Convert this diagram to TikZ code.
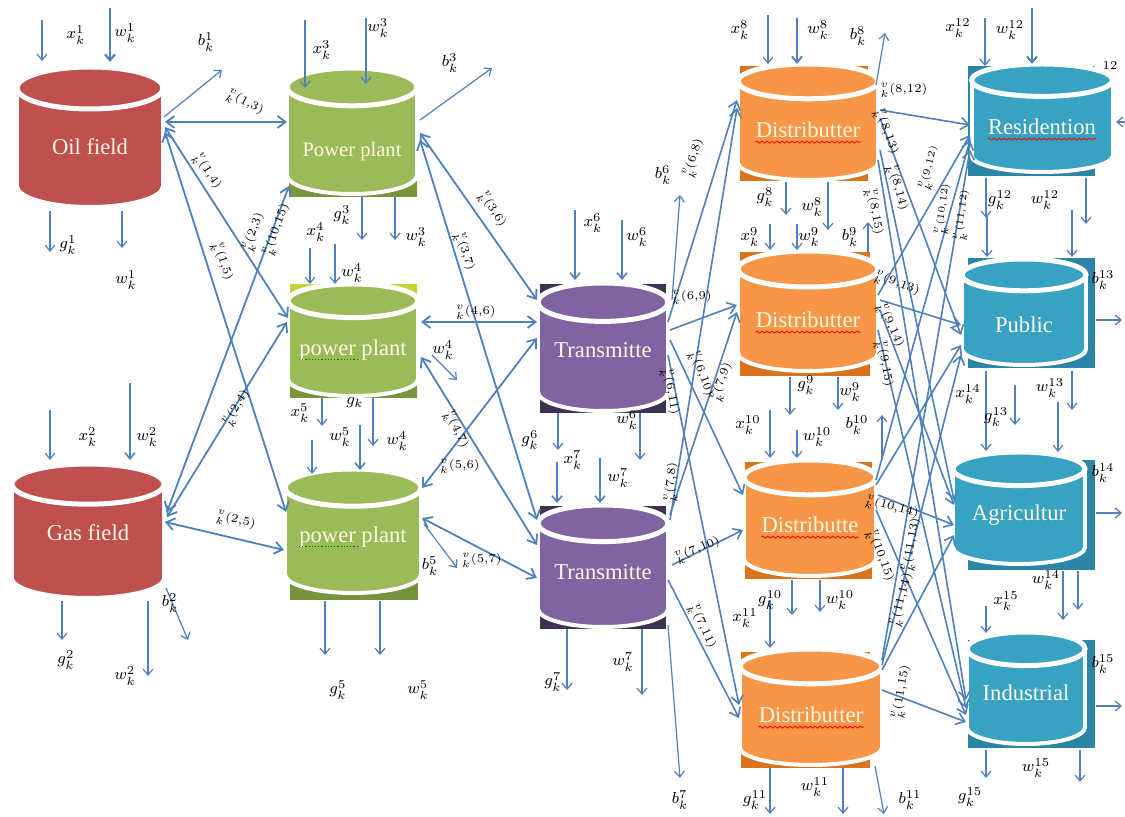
\documentclass[tikz,border=0pt]{standalone}
\usepackage{fontspec}
\setmainfont{Liberation Serif}
\usetikzlibrary{arrows.meta,calc,decorations.pathmorphing}
\definecolor{ln}{HTML}{4F81BD}
\definecolor{cred}{HTML}{C0504D}
\definecolor{cgreen}{HTML}{9BBB59}
\definecolor{cgreenD}{HTML}{76923C}
\definecolor{cpurp}{HTML}{8064A2}
\definecolor{cpurpD}{HTML}{3F3151}
\definecolor{corange}{HTML}{F79646}
\definecolor{corangeD}{HTML}{D9731E}
\definecolor{cteal}{HTML}{38A2C2}
\definecolor{ctealD}{HTML}{2A86A4}
\definecolor{ctext}{HTML}{FFF8E7}
% cylinder: name, cx, cy, w, h, colour, text, text dy
\newcommand{\cylnode}[8]{%
  \expandafter\gdef\csname c#1x\endcsname{#2}%
  \expandafter\gdef\csname c#1y\endcsname{#3}%
  \pgfmathsetmacro\crx{#4/2}%
  \pgfmathsetmacro\cry{0.15*#5}%
  \pgfmathsetmacro\cyt{#3-#5/2+\cry}%
  \pgfmathsetmacro\cyb{#3+#5/2-\cry}%
  \pgfmathsetmacro\cxl{#2-\crx}%
  \pgfmathsetmacro\cxr{#2+\crx}%
  \fill[#6] (#2,\cyb) ellipse[x radius=\crx, y radius=\cry];
  \draw[white, line width=2pt] (#2,\cyb) ellipse[x radius=\crx, y radius=\cry];
  \fill[#6] (\cxl,\cyt) rectangle (\cxr,\cyb);
  \draw[white, line width=2pt] (\cxl,\cyt) -- (\cxl,\cyb) (\cxr,\cyt) -- (\cxr,\cyb);
  \draw[white, line width=2.5pt, fill=#6] (#2,\cyt) ellipse[x radius=\crx, y radius=\cry];
  \node[inner sep=0pt, minimum width=#4*0.5pt, minimum height=#5*0.5pt] (#1) at (#2,#3) {};
  \node[ctxt] (#1t) at (#2,#3+#8) {#7};
}
\newcommand{\NP}[3]{($(#1)+({#2-\csname c#1x\endcsname},{#3-\csname c#1y\endcsname})$)}
\newcommand{\el}[2]{$^{v}_{k}(#1{,}#2)$}
\begin{document}
\begin{tikzpicture}[x=0.5pt,y=-0.5pt,
  arr/.style={ln, line width=0.6pt, -{Straight Barb[length=3pt,width=5pt]}},
  flow/.style={ln, line width=0.9pt, {Straight Barb[length=4pt,width=6pt]}-{Straight Barb[length=4pt,width=6pt]}},
  flowa/.style={ln, line width=0.8pt, -{Straight Barb[length=4pt,width=6pt]}},
  lab/.style={font=\fontsize{8.5}{10}\selectfont, inner sep=0.5pt},
  elab/.style={font=\fontsize{6}{7}\selectfont, inner sep=0.2pt},
  elabs/.style={font=\fontsize{4.5}{5}\selectfont, inner sep=0.2pt},
  ctxt/.style={text=ctext, inner sep=0pt, font=\fontsize{11.3}{13}\selectfont},
  wavy/.style={red, line width=0.4pt, decorate, decoration={snake, amplitude=0.5pt, segment length=2.5pt}},
  dotty/.style={green!45!black, line width=0.6pt, densely dotted},
]
\useasboundingbox (0,0) rectangle (1125,817);
\fill[white] (0,0) rectangle (1125,817);

% shadow boxes
\shade[top color=cgreen!60!yellow, bottom color=cgreenD] (289,86) rectangle (417,197);
\shade[top color=cgreen!60!yellow, bottom color=cgreenD] (290,285) rectangle (417,398);
\fill[cgreenD] (290,478) rectangle (418,600);
\fill[cpurpD] (540,284) rectangle (666,413);
\fill[cpurpD] (540,506) rectangle (666,629);
\fill[corangeD] (740,66) rectangle (868,181);
\fill[corangeD] (740,252) rectangle (870,376);
\fill[corangeD] (745,462) rectangle (872,579);
\fill[corangeD] (741,652) rectangle (870,768);
\fill[ctealD] (968,66) rectangle (1095,176);
\fill[ctealD] (968,258) rectangle (1095,368);
\fill[ctealD] (968,460) rectangle (1095,570);
\fill[ctealD] (968,640) rectangle (1095,748);

% cylinders
\cylnode{oil}{90}{137}{146}{140}{cred}{Oil field}{10}
\cylnode{gas}{88}{531}{152}{134}{cred}{Gas field}{2}
\cylnode{ppa}{352}{131}{130}{126}{cgreen}{\fontsize{10.3}{12}\selectfont Power plant}{21}
\cylnode{ppb}{353}{340}{130}{112}{cgreen}{power plant}{10}
\cylnode{ppc}{353}{531}{136}{124}{cgreen}{power plant}{6}
\cylnode{ta}{603}{347}{130}{128}{cpurp}{Transmitte}{3}
\cylnode{tb}{603}{566}{130}{122}{cpurp}{Transmitte}{6}
\cylnode{da}{808}{122}{140}{116}{corange}{Distributter}{8}
\cylnode{db}{808}{311}{140}{120}{corange}{Distributter}{9}
\cylnode{dc}{810}{518}{132}{116}{corange}{Distributte}{7}
\cylnode{dd}{811}{707}{142}{116}{corange}{Distributter}{8}
\cylnode{res}{1042}{118}{141}{108}{cteal}{Residention}{9}
\cylnode{pub}{1024}{312}{124}{106}{cteal}{Public}{13}
\cylnode{agr}{1019}{508}{132}{112}{cteal}{Agricultur}{7}
\cylnode{ind}{1026}{688}{118}{112}{cteal}{Industrial}{5}

% spell-check underlines
\foreach \n in {da,db,dc,dd,res}{\draw[wavy] ([yshift=-2.2pt]\n t.base west) -- ([yshift=-2.2pt]\n t.base east);}
\draw[dotty] ([yshift=-2.2pt]ppbt.base west) -- ++(58,0);
\draw[dotty] ([yshift=-2.2pt]ppct.base west) -- ++(60,0);

% ---------- source flows ----------
\draw[flow] \NP{oil}{165}{122} -- \NP{ppa}{287}{122};
\draw[flow] \NP{oil}{165}{127} -- \NP{ppb}{288}{318};
\draw[flow] \NP{oil}{165}{132} -- \NP{ppc}{286}{512};
\draw[flow] \NP{gas}{167}{512} -- \NP{ppa}{289}{186};
\draw[flow] \NP{gas}{167}{517} -- \NP{ppb}{287}{322};
\draw[flow] \NP{gas}{165}{522} -- \NP{ppc}{284}{550};
% power plants to transmitters
\draw[flow] \NP{ppa}{420}{133} -- \NP{ta}{537}{300};
\draw[flow] \NP{ppa}{420}{140} -- \NP{tb}{537}{520};
\draw[flow] \NP{ppb}{421}{322} -- \NP{ta}{537}{322};
\draw[flow] \NP{ppb}{421}{357} -- \NP{tb}{537}{545};
\draw[flow] \NP{ppc}{422}{488} -- \NP{ta}{537}{338};
\draw[flow] \NP{ppc}{422}{518} -- \NP{tb}{537}{578};
% transmitters to distributers
\draw[flowa] \NP{ta}{668}{322} -- \NP{da}{737}{100};
\draw[flowa] \NP{ta}{670}{330} -- \NP{db}{737}{305};
\draw[flowa] \NP{ta}{670}{340} -- \NP{dc}{743}{495};
\draw[flowa] \NP{ta}{668}{355} -- \NP{dd}{739}{705};
\draw[flowa] \NP{tb}{670}{520} -- \NP{da}{737}{108};
\draw[flowa] \NP{tb}{670}{515} -- \NP{db}{737}{312};
\draw[flowa] \NP{tb}{672}{565} -- \NP{dc}{743}{530};
\draw[flowa] \NP{tb}{668}{580} -- \NP{dd}{739}{718};
% distributers to consumers
\draw[flowa] \NP{da}{880}{110} -- \NP{res}{970}{125};
\draw[flowa] \NP{da}{880}{118} -- \NP{pub}{961}{335};
\draw[flowa] \NP{da}{880}{150} -- \NP{agr}{954}{500};
\draw[flowa] \NP{da}{878}{160} -- \NP{ind}{966}{700};
\draw[flowa] \NP{db}{878}{295} -- \NP{res}{970}{135};
\draw[flowa] \NP{db}{880}{300} -- \NP{pub}{961}{325};
\draw[flowa] \NP{db}{880}{310} -- \NP{agr}{954}{505};
\draw[flowa] \NP{db}{878}{330} -- \NP{ind}{966}{708};
\draw[flowa] \NP{dc}{876}{480} -- \NP{res}{970}{140};
\draw[flowa] \NP{dc}{876}{485} -- \NP{pub}{961}{345};
\draw[flowa] \NP{dc}{878}{495} -- \NP{agr}{954}{525};
\draw[flowa] \NP{dc}{876}{510} -- \NP{ind}{966}{715};
\draw[flowa] \NP{dd}{882}{660} -- \NP{res}{970}{150};
\draw[flowa] \NP{dd}{882}{665} -- \NP{pub}{961}{355};
\draw[flowa] \NP{dd}{882}{670} -- \NP{agr}{954}{535};
\draw[flowa] \NP{dd}{882}{690} -- \NP{ind}{966}{722};

% ---------- single in/out arrows ----------
% oil
\draw[arr] \NP{oil}{42}{20} -- \NP{oil}{42}{61};
\draw[arr, line width=1.1pt] \NP{oil}{110}{8} -- \NP{oil}{110}{62};
\draw[arr] \NP{oil}{164}{117} -- \NP{oil}{222}{70};
\draw[arr] \NP{oil}{50}{211} -- \NP{oil}{50}{252};
\draw[arr] \NP{oil}{122}{211} -- \NP{oil}{122}{248};
% gas
\draw[arr] \NP{gas}{50}{410} -- \NP{gas}{50}{460};
\draw[arr, line width=0.8pt] \NP{gas}{130}{383} -- \NP{gas}{130}{460};
\draw[arr] \NP{gas}{62}{601} -- \NP{gas}{62}{640};
\draw[arr] \NP{gas}{148}{601} -- \NP{gas}{148}{676};
\draw[arr] \NP{gas}{166}{588} -- \NP{gas}{188}{640};
% power plant 1
\draw[arr] \NP{ppa}{305}{20} -- \NP{ppa}{305}{88};
\draw[arr] \NP{ppa}{366}{18} -- \NP{ppa}{366}{84};
\draw[arr] \NP{ppa}{420}{120} -- \NP{ppa}{492}{68};
\draw[arr] \NP{ppa}{362}{197} -- \NP{ppa}{362}{240};
\draw[arr] \NP{ppa}{395}{197} -- \NP{ppa}{395}{240};
% power plant 2
\draw[arr] \NP{ppb}{310}{248} -- \NP{ppb}{310}{284};
\draw[arr] \NP{ppb}{335}{244} -- \NP{ppb}{335}{284};
\draw[arr] \NP{ppb}{432}{355} -- \NP{ppb}{457}{380};
\draw[arr] \NP{ppb}{322}{398} -- \NP{ppb}{322}{426};
\draw[arr] \NP{ppb}{373}{398} -- \NP{ppb}{373}{446};
% power plant 3
\draw[arr] \NP{ppc}{312}{440} -- \NP{ppc}{312}{474};
\draw[arr, line width=0.8pt] \NP{ppc}{360}{425} -- \NP{ppc}{360}{470};
\draw[arr] \NP{ppc}{424}{524} -- \NP{ppc}{457}{568};
\draw[arr] \NP{ppc}{325}{601} -- \NP{ppc}{325}{655};
\draw[arr] \NP{ppc}{380}{601} -- \NP{ppc}{380}{655};
% transmitter 1
\draw[arr, line width=0.8pt] \NP{ta}{575}{210} -- \NP{ta}{575}{280};
\draw[arr, line width=0.8pt] \NP{ta}{622}{220} -- \NP{ta}{622}{280};
\draw[arr] \NP{ta}{672}{300} -- \NP{ta}{680}{195};
\draw[arr] \NP{ta}{558}{413} -- \NP{ta}{558}{450};
\draw[arr] \NP{ta}{640}{413} -- \NP{ta}{640}{460};
% transmitter 2
\draw[arr, line width=0.8pt] \NP{tb}{557}{462} -- \NP{tb}{557}{503};
\draw[arr, line width=0.8pt] \NP{tb}{600}{458} -- \NP{tb}{600}{503};
\draw[arr] \NP{tb}{567}{629} -- \NP{tb}{567}{690};
\draw[arr] \NP{tb}{642}{629} -- \NP{tb}{642}{695};
\draw[arr] \NP{tb}{668}{625} -- \NP{tb}{680}{778};
% distributer 1
\draw[arr] \NP{da}{768}{15} -- \NP{da}{768}{64};
\draw[arr, line width=1pt] \NP{da}{797}{18} -- \NP{da}{797}{64};
\draw[arr] \NP{da}{876}{85} -- \NP{da}{885}{33};
\draw[arr] \NP{da}{786}{182} -- \NP{da}{786}{215};
\draw[arr] \NP{da}{828}{182} -- \NP{da}{828}{230};
% distributer 2
\draw[arr] \NP{db}{770}{224} -- \NP{db}{770}{250};
\draw[arr] \NP{db}{797}{224} -- \NP{db}{797}{250};
\draw[arr] \NP{db}{868}{252} -- \NP{db}{868}{222};
\draw[arr] \NP{db}{790}{377} -- \NP{db}{790}{415};
\draw[arr] \NP{db}{838}{377} -- \NP{db}{838}{410};
% distributer 3
\draw[arr] \NP{dc}{770}{410} -- \NP{dc}{770}{458};
\draw[arr] \NP{dc}{797}{430} -- \NP{dc}{797}{458};
\draw[arr] \NP{dc}{882}{460} -- \NP{dc}{882}{415};
\draw[arr] \NP{dc}{792}{580} -- \NP{dc}{792}{615};
\draw[arr] \NP{dc}{820}{580} -- \NP{dc}{820}{612};
% distributer 4
\draw[arr] \NP{dd}{770}{600} -- \NP{dd}{770}{648};
\draw[arr] \NP{dd}{770}{768} -- \NP{dd}{770}{814};
\draw[arr] \NP{dd}{843}{768} -- \NP{dd}{843}{814};
\draw[arr] \NP{dd}{875}{766} -- \NP{dd}{884}{814};
% residention
\draw[arr] \NP{res}{985}{18} -- \NP{res}{985}{66};
\draw[arr, line width=1pt] \NP{res}{1032}{8} -- \NP{res}{1032}{64};
\draw[arr] \NP{res}{1125}{122} -- \NP{res}{1116}{122};
\draw[arr] \NP{res}{986}{178} -- \NP{res}{986}{218};
\draw[arr] \NP{res}{1086}{178} -- \NP{res}{1086}{224};
% public
\draw[arr] \NP{pub}{987}{215} -- \NP{pub}{987}{257};
\draw[arr] \NP{pub}{1072}{210} -- \NP{pub}{1072}{257};
\draw[arr] \NP{pub}{1096}{320} -- \NP{pub}{1122}{320};
\draw[arr] \NP{pub}{986}{371} -- \NP{pub}{986}{451};
\draw[arr] \NP{pub}{1015}{385} -- \NP{pub}{1015}{425};
\draw[arr] \NP{pub}{1072}{371} -- \NP{pub}{1072}{410};
% agricultur
\draw[arr] \NP{agr}{1058}{402} -- \NP{agr}{1058}{452};
\draw[arr] \NP{agr}{1096}{513} -- \NP{agr}{1122}{513};
\draw[arr] \NP{agr}{1063}{571} -- \NP{agr}{1063}{620};
\draw[arr] \NP{agr}{1078}{571} -- \NP{agr}{1078}{610};
\draw[arr] \NP{agr}{986}{606} -- \NP{agr}{986}{633};
% industrial
\draw[arr] \NP{ind}{1096}{706} -- \NP{ind}{1122}{706};
\draw[arr] \NP{ind}{986}{750} -- \NP{ind}{986}{778};
\draw[arr] \NP{ind}{1080}{750} -- \NP{ind}{1080}{782};

% ---------- labels ----------
\node[lab] (l1) at (76,35) {$x_k^1$};
\node[lab] (l2) at (125,33) {$w_k^1$};
\node[lab] (l3) at (206,42) {$b_k^1$};
\node[lab] (l4) at (68,245) {$g_k^1$};
\node[lab] (l5) at (126,280) {$w_k^1$};
\node[lab] (l6) at (88,437) {$x_k^2$};
\node[lab] (l7) at (147,437) {$w_k^2$};
\node[lab] (l8) at (66,660) {$g_k^2$};
\node[lab] (l9) at (125,676) {$w_k^2$};
\node[lab] (l10) at (170,603) {$b_k^2$};
\node[lab] (l11) at (322,50) {$x_k^3$};
\node[lab] (l12) at (378,28) {$w_k^3$};
\node[lab] (l13) at (450,63) {$b_k^3$};
\node[lab] (l14) at (342,215) {$g_k^3$};
\node[lab] (l15) at (416,237) {$w_k^3$};
\node[lab] (l16) at (316,232) {$x_k^4$};
\node[lab] (l17) at (352,273) {$w_k^4$};
\node[lab] (l18) at (443,350) {$w_k^4$};
\node[lab] (l19) at (355,403) {$g_k$};
\node[lab] (l20) at (300,413) {$x_k^5$};
\node[lab] (l21) at (397,441) {$w_k^4$};
\node[lab] (l22) at (340,437) {$w_k^5$};
\node[lab] (l23) at (430,566) {$b_k^5$};
\node[lab] (l24) at (338,690) {$g_k^5$};
\node[lab] (l25) at (418,690) {$w_k^5$};
\node[lab] (l26) at (593,223) {$x_k^6$};
\node[lab] (l27) at (637,237) {$w_k^6$};
\node[lab] (l28) at (663,175) {$b_k^6$};
\node[lab] (l29) at (530,440) {$g_k^6$};
\node[lab] (l30) at (627,420) {$w_k^6$};
\node[lab] (l31) at (573,460) {$x_k^7$};
\node[lab] (l32) at (618,478) {$w_k^7$};
\node[lab] (l33) at (553,682) {$g_k^7$};
\node[lab] (l34) at (623,662) {$w_k^7$};
\node[lab] (l35) at (680,800) {$b_k^7$};
\node[lab] (l36) at (740,30) {$x_k^8$};
\node[lab] (l37) at (818,30) {$w_k^8$};
\node[lab] (l38) at (858,36) {$b_k^8$};
\node[lab] (l39) at (765,197) {$g_k^8$};
\node[lab] (l40) at (812,207) {$w_k^8$};
\node[lab] (l41) at (750,237) {$x_k^9$};
\node[lab] (l42) at (809,237) {$w_k^9$};
\node[lab] (l43) at (850,237) {$b_k^9$};
\node[lab] (l44) at (806,385) {$g_k^9$};
\node[lab] (l45) at (850,392) {$w_k^9$};
\node[lab] (l46) at (748,425) {$x_k^{10}$};
\node[lab] (l47) at (817,437) {$w_k^{10}$};
\node[lab] (l48) at (857,425) {$b_k^{10}$};
\node[lab] (l49) at (770,600) {$g_k^{10}$};
\node[lab] (l50) at (840,600) {$w_k^{10}$};
\node[lab] (l51) at (745,618) {$x_k^{11}$};
\node[lab] (l52) at (755,800) {$g_k^{11}$};
\node[lab] (l53) at (815,787) {$w_k^{11}$};
\node[lab] (l54) at (910,800) {$b_k^{11}$};
\node[lab] (l55) at (958,28) {$x_k^{12}$};
\node[lab] (l56) at (1010,30) {$w_k^{12}$};
\node[lab] (l57) at (1110,66) {$\scriptstyle 12$};
\node[lab] (l58) at (1000,200) {$g_k^{12}$};
\node[lab] (l59) at (1045,200) {$w_k^{12}$};
\node[lab] (l60) at (1103,280) {$b_k^{13}$};
\node[lab] (l61) at (1050,388) {$w_k^{13}$};
\node[lab] (l62) at (968,394) {$x_k^{14}$};
\node[lab] (l63) at (996,417) {$g_k^{13}$};
\node[lab] (l64) at (1103,473) {$b_k^{14}$};
\node[lab] (l65) at (1046,580) {$w_k^{14}$};
\node[lab] (l66) at (1006,601) {$x_k^{15}$};
\node[lab] (l67) at (1103,664) {$b_k^{15}$};
\node[lab] (l68) at (970,797) {$g_k^{15}$};
\node[lab] (l69) at (1036,768) {$w_k^{15}$};

% edge labels
\node[elab, rotate=-28] (e13) at (245,103) {\el{1}{3}};
\node[elab, rotate=-57] (e14) at (207,172) {\el{1}{4}};
\node[elab, rotate=-72] (e15) at (222,262) {\el{1}{5}};
\node[elab, rotate=70] (e23) at (254,232) {\el{2}{3}};
\node[elab, rotate=70] (e1015) at (277,230) {\el{10}{15}};
\node[elab, rotate=59] (e24) at (237,408) {\el{2}{4}};
\node[elab, rotate=-13] (e25) at (236,521) {\el{2}{5}};
\node[elab, rotate=-58] (e36) at (492,210) {\el{3}{6}};
\node[elab, rotate=-73] (e37) at (464,252) {\el{3}{7}};
\node[elab] (e46) at (476,312) {\el{4}{6}};
\node[elab, rotate=-65] (e47) at (456,430) {\el{4}{7}};
\node[elab] (e56) at (460,466) {\el{5}{6}};
\node[elab] (e57) at (482,560) {\el{5}{7}};
\node[elab, rotate=72] (e68) at (694,158) {\el{6}{8}};
\node[elab] (e69) at (692,297) {\el{6}{9}};
\node[elab, rotate=-70] (e610) at (701,374) {\el{6}{10}};
\node[elab, rotate=-80] (e611) at (670,392) {\el{6}{11}};
\node[elab, rotate=85] (e78) at (672,482) {\el{7}{8}};
\node[elab, rotate=70] (e79) at (722,382) {\el{7}{9}};
\node[elab, rotate=22] (e710) at (698,550) {\el{7}{10}};
\node[elab, rotate=-65] (e711) at (702,627) {\el{7}{11}};
\node[elab] (e812) at (904,90) {\el{8}{12}};
\node[elab, rotate=-70] (e813) at (886,132) {\el{8}{13}};
\node[elab, rotate=-75] (e814) at (897,188) {\el{8}{14}};
\node[elab, rotate=-80] (e815) at (874,212) {\el{8}{15}};
\node[elabs, rotate=75] (e912) at (930,168) {\el{9}{12}};
\node[elabs, rotate=82] (e1012) at (944,209) {\el{10}{12}};
\node[elabs, rotate=82] (e1112) at (963,215) {\el{11}{12}};
\node[elab, rotate=-20] (e913) at (897,284) {\el{9}{13}};
\node[elab, rotate=-65] (e914) at (890,326) {\el{9}{14}};
\node[elab, rotate=-80] (e915) at (884,364) {\el{9}{15}};
\node[elab, rotate=-15] (e1014) at (892,508) {\el{10}{14}};
\node[elab, rotate=-70] (e1015b) at (880,556) {\el{10}{15}};
\node[elab, rotate=80] (e1113) at (912,545) {\el{11}{13}};
\node[elab, rotate=75] (e1114) at (902,600) {\el{11}{14}};
\node[elab, rotate=80] (e1115) at (902,692) {\el{11}{15}};
\end{tikzpicture}
\end{document}
